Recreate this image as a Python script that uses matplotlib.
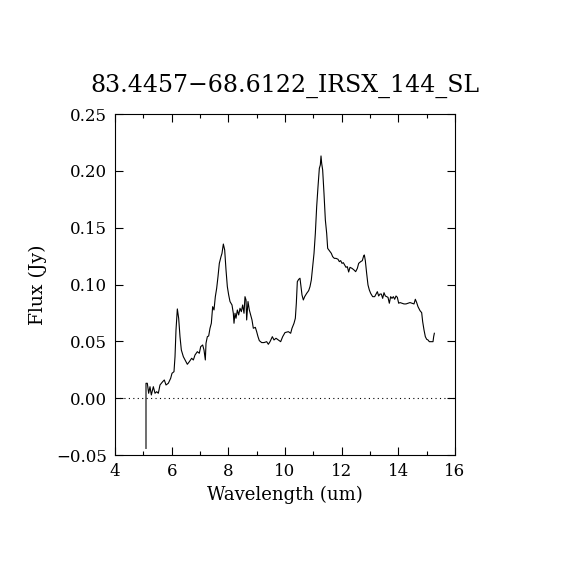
import matplotlib
matplotlib.use('Agg')
import matplotlib.pyplot as plt
from matplotlib.ticker import MultipleLocator

# spectrum
wave = [5.094, 5.094, 5.141, 5.188, 5.235, 5.282, 5.353, 5.412, 5.471, 5.529,
        5.588, 5.682, 5.741, 5.800, 5.882, 5.965, 6.012, 6.082, 6.118, 6.153,
        6.200, 6.247, 6.294, 6.341, 6.412, 6.506, 6.553, 6.624, 6.706, 6.765,
        6.824, 6.906, 6.976, 7.024, 7.094, 7.141, 7.188, 7.212, 7.259, 7.306,
        7.353, 7.400, 7.447, 7.494, 7.541, 7.588, 7.635, 7.682, 7.741, 7.776,
        7.824, 7.871, 7.918, 7.965, 8.012, 8.059, 8.129, 8.176, 8.200, 8.235,
        8.271, 8.318, 8.365, 8.412, 8.459, 8.506, 8.553, 8.588, 8.624, 8.647,
        8.694, 8.741, 8.788, 8.835, 8.882, 8.953, 9.000, 9.047, 9.094, 9.176,
        9.259, 9.353, 9.412, 9.471, 9.553, 9.612, 9.682, 9.765, 9.847, 9.918,
        10.000, 10.118, 10.200, 10.247, 10.318, 10.365, 10.400, 10.435, 10.482, 10.529,
        10.565, 10.600, 10.647, 10.694, 10.765, 10.835, 10.882, 10.929, 10.976, 11.024,
        11.071, 11.118, 11.165, 11.212, 11.247, 11.271, 11.294, 11.329, 11.376, 11.424,
        11.471, 11.506, 11.565, 11.635, 11.682, 11.741, 11.800, 11.871, 11.918, 11.965,
        12.012, 12.059, 12.106, 12.153, 12.200, 12.247, 12.294, 12.365, 12.435, 12.494,
        12.553, 12.600, 12.671, 12.729, 12.776, 12.800, 12.835, 12.882, 12.929, 12.976,
        13.024, 13.094, 13.165, 13.212, 13.259, 13.306, 13.353, 13.400, 13.447, 13.494,
        13.541, 13.588, 13.635, 13.682, 13.729, 13.776, 13.824, 13.871, 13.918, 13.965,
        14.012, 14.059, 14.129, 14.200, 14.271, 14.341, 14.412, 14.482, 14.553, 14.600,
        14.647, 14.694, 14.765, 14.824, 14.859, 14.906, 14.953, 15.000, 15.047, 15.094,
        15.165, 15.224, 15.247, 15.271]
flux = [-0.0442, 0.0131, 0.0131, 0.0043, 0.0101, 0.0028, 0.0101, 0.0043, 0.0057, 0.0043,
        0.0116, 0.0145, 0.0160, 0.0116, 0.0131, 0.0175, 0.0219, 0.0233, 0.0365, 0.0600,
        0.0785, 0.0703, 0.0541, 0.0424, 0.0365, 0.0321, 0.0298, 0.0321, 0.0351, 0.0336,
        0.0380, 0.0409, 0.0395, 0.0453, 0.0468, 0.0424, 0.0336, 0.0483, 0.0541, 0.0547,
        0.0615, 0.0659, 0.0805, 0.0776, 0.0893, 0.0966, 0.1069, 0.1186, 0.1245, 0.1274,
        0.1356, 0.1304, 0.1128, 0.0981, 0.0908, 0.0850, 0.0820, 0.0747, 0.0659, 0.0747,
        0.0703, 0.0776, 0.0732, 0.0791, 0.0761, 0.0820, 0.0747, 0.0893, 0.0864, 0.0688,
        0.0850, 0.0776, 0.0732, 0.0688, 0.0615, 0.0623, 0.0585, 0.0541, 0.0506, 0.0489,
        0.0489, 0.0497, 0.0474, 0.0497, 0.0541, 0.0512, 0.0527, 0.0512, 0.0497, 0.0541,
        0.0577, 0.0585, 0.0571, 0.0615, 0.0659, 0.0703, 0.0835, 0.1025, 0.1045, 0.1055,
        0.0981, 0.0908, 0.0864, 0.0893, 0.0922, 0.0946, 0.0981, 0.1040, 0.1157, 0.1274,
        0.1450, 0.1685, 0.1861, 0.2022, 0.2052, 0.2131, 0.2066, 0.2008, 0.1802, 0.1568,
        0.1450, 0.1318, 0.1298, 0.1274, 0.1245, 0.1230, 0.1230, 0.1222, 0.1201, 0.1210,
        0.1186, 0.1192, 0.1172, 0.1151, 0.1157, 0.1110, 0.1151, 0.1142, 0.1128, 0.1113,
        0.1142, 0.1186, 0.1201, 0.1210, 0.1251, 0.1260, 0.1210, 0.1098, 0.0996, 0.0952,
        0.0922, 0.0893, 0.0893, 0.0916, 0.0937, 0.0899, 0.0916, 0.0916, 0.0878, 0.0928,
        0.0899, 0.0893, 0.0887, 0.0835, 0.0893, 0.0878, 0.0893, 0.0870, 0.0899, 0.0887,
        0.0835, 0.0841, 0.0835, 0.0829, 0.0829, 0.0835, 0.0841, 0.0835, 0.0829, 0.0870,
        0.0841, 0.0805, 0.0770, 0.0752, 0.0673, 0.0600, 0.0541, 0.0518, 0.0512, 0.0497,
        0.0497, 0.0497, 0.0541, 0.0571]

title = "83.4457\u221268.6122_IRSX_144_SL"

plt.rcParams['font.family'] = ['DejaVu Serif']

fig = plt.figure(figsize=(5.7, 5.7), dpi=100)
ax = fig.add_axes([115/570, 115/570, 340/570, 341/570])

ax.plot(wave, flux, color='black', lw=0.8)
ax.axhline(0, color='black', lw=0.8, ls=(0, (1, 3)))

ax.set_xlim(4, 16)
ax.set_ylim(-0.05, 0.25)
ax.xaxis.set_major_locator(MultipleLocator(2))
ax.xaxis.set_minor_locator(MultipleLocator(1))
ax.yaxis.set_major_locator(MultipleLocator(0.05))
ax.yaxis.set_major_formatter(plt.FuncFormatter(lambda v, p: f"{v:.2f}".replace('-', '\u2212')))
ax.tick_params(which='both', direction='in', top=True, right=True, labelsize=12)
ax.tick_params(which='major', length=6, width=0.8, pad=6)
ax.tick_params(which='minor', length=3, width=0.8)
for s in ax.spines.values():
    s.set_linewidth(0.8)

ax.set_title(title, fontsize=17, pad=16)
ax.set_xlabel("Wavelength (um)", fontsize=13, labelpad=4)
ax.set_ylabel("Flux (Jy)", fontsize=13.5, labelpad=6)

fig.savefig("out.png", dpi=100)
